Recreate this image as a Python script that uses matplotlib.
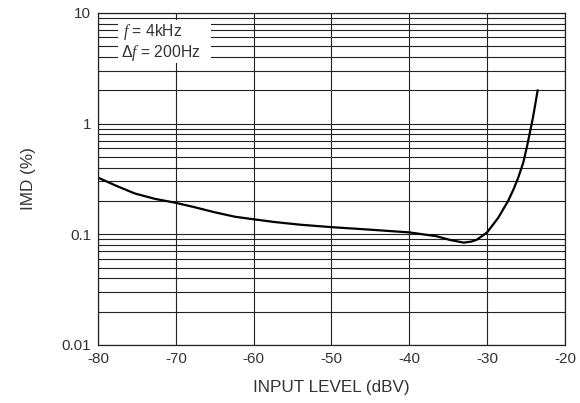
import matplotlib
matplotlib.use("Agg")
import matplotlib.pyplot as plt
from matplotlib.ticker import LogLocator, FixedLocator, NullFormatter, FixedFormatter

plt.rcParams['font.family'] = ['Liberation Sans', 'DejaVu Sans']
plt.rcParams['mathtext.fontset'] = 'custom'
plt.rcParams['mathtext.it'] = 'Liberation Serif:italic'
plt.rcParams['mathtext.rm'] = 'Liberation Sans'

input_level = [-80, -77.8, -75.3, -72.7, -70.1, -67.5, -65, -62.4, -59.8, -57.3,
               -54, -50, -45, -40, -36.5, -34.8, -33, -32, -31.3, -30, -28.6,
               -27.3, -26.6, -26, -25.35, -24.9, -24.5, -24.1, -23.5]
imd = [0.325, 0.277, 0.234, 0.209, 0.193, 0.175, 0.158, 0.144, 0.136, 0.129,
       0.122, 0.116, 0.110, 0.104, 0.096, 0.089, 0.084, 0.086, 0.0895, 0.104, 0.14,
       0.2, 0.255, 0.325, 0.445, 0.61, 0.83, 1.14, 2.0]

x_ticks = [-80, -70, -60, -50, -40, -30, -20]
y_ticks = [0.01, 0.1, 1, 10]
y_tick_labels = ["0.01", "0.1", "1", "10"]

txt = '#333333'

fig = plt.figure(figsize=(5.8, 4.03), dpi=100)
ax = fig.add_axes([0.169, 0.144, 0.805, 0.824])
ax.set_yscale('log')
ax.set_xlim(-80, -20)
ax.set_ylim(0.01, 10)

ax.xaxis.set_major_locator(FixedLocator(x_ticks))
ax.set_xticklabels([str(v) for v in x_ticks])
ax.yaxis.set_major_locator(FixedLocator(y_ticks))
ax.yaxis.set_major_formatter(FixedFormatter(y_tick_labels))
ax.yaxis.set_minor_locator(LogLocator(base=10, subs=range(2, 10)))
ax.yaxis.set_minor_formatter(NullFormatter())

ax.grid(True, which='major', axis='x', color='#222222', lw=0.8)
ax.grid(True, which='both', axis='y', color='#222222', lw=0.8)
ax.tick_params(which='both', length=0, labelsize=11, colors=txt, pad=5)
for s in ax.spines.values():
    s.set_color('#222222')
    s.set_linewidth(0.9)

ax.plot(input_level, imd, color='black', lw=1.6, solid_capstyle='round',
        solid_joinstyle='round')

ax.set_xlabel("INPUT LEVEL (dBV)", fontsize=12.3, color=txt, labelpad=10)
ax.set_ylabel("IMD (%)", fontsize=12.3, color=txt, labelpad=18)

# annotation box
ax.add_patch(plt.Rectangle((0.043, 0.849), 0.2, 0.13, transform=ax.transAxes,
                           facecolor='white', edgecolor='none', zorder=3))
ax.text(0.054, 0.942, r"$f$ = 4kHz", transform=ax.transAxes, fontsize=11.3,
        color=txt, va='center', ha='left', zorder=4)
ax.text(0.050, 0.879, r"Δ$f$ = 200Hz", transform=ax.transAxes, fontsize=11.3,
        color=txt, va='center', ha='left', zorder=4)

fig.savefig("out.png", dpi=100)
